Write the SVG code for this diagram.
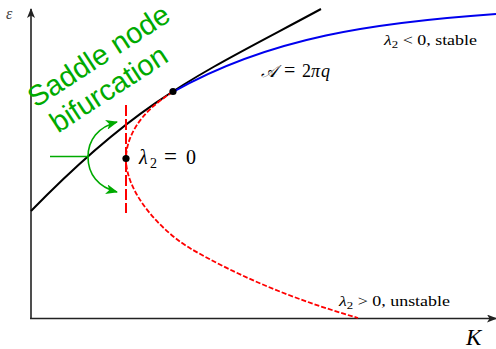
<svg xmlns="http://www.w3.org/2000/svg" width="496" height="349" viewBox="0 0 496 349">
<style>
.axis{stroke:#222;stroke-width:1.6;fill:none}
.math{font-family:"Liberation Serif","DejaVu Serif",serif;fill:#000}
.it{font-style:italic}
.green{fill:#00aa00;font-family:"Liberation Sans","DejaVu Sans",sans-serif;font-size:29px}
.garc{stroke:#00aa00;stroke-width:1.6;fill:none}
.dot{fill:#000}
</style>
<defs>
<marker id="ax" viewBox="0 0 10 8" refX="9" refY="4" markerWidth="10" markerHeight="8" markerUnits="userSpaceOnUse" orient="auto">
<path d="M0,0 L10,4 L0,8 L2.5,4 Z" fill="#222"/>
</marker>
<marker id="ga" viewBox="0 0 12 10" refX="11" refY="5" markerWidth="12" markerHeight="10" markerUnits="userSpaceOnUse" orient="auto">
<path d="M0,0 L12,5 L0,10 L3,5 Z" fill="#00aa00"/>
</marker>
</defs>
<rect width="496" height="349" fill="#fff"/>
<g id="axes">
<line class="axis" x1="31" y1="319" x2="31" y2="9" marker-end="url(#ax)"/>
<line class="axis" x1="30" y1="318.5" x2="496" y2="318.5" marker-end="url(#ax)"/>
<text class="math it" x="6" y="19" font-size="16" style="fill:#444">ε</text>
<text class="math it" x="466" y="345" font-size="23">K</text>
</g>
<g id="connectors">
<path d="M31,211 C141,97.7 201,73.8 321,9" stroke="#000" stroke-width="2" fill="none"/>
<path d="M173,92 C270,37 376,22.4 496,14" stroke="#0000ee" stroke-width="2" fill="none"/>
<path d="M173,92 C138,113 126,139 126,159 C126,194 163,233 193,250 C248,281.4 303,302 358,318" stroke="#ff0000" stroke-width="1.8" fill="none" stroke-dasharray="5 2"/>
<line x1="126" y1="105" x2="126" y2="213" stroke="#ff0000" stroke-width="2" stroke-dasharray="11 3"/>
<line x1="50" y1="156.5" x2="88" y2="156.5" class="garc"/>
<path class="garc" d="M88,157 C88,140 98,127 117,122" marker-end="url(#ga)"/>
<path class="garc" d="M88,157 C88,174 98,187 117,192" marker-end="url(#ga)"/>
</g>
<g id="bifurcation-label">
<text class="green" text-anchor="middle" transform="translate(104,64) rotate(-33)">Saddle node</text>
<text class="green" text-anchor="middle" transform="translate(114,97) rotate(-33)">bifurcation</text>
</g>
<g id="node-upper">
<circle class="dot" cx="173" cy="91.5" r="3.6"/>
</g>
<g id="node-lambda0">
<circle class="dot" cx="126" cy="158.5" r="3.6"/>
<text class="math" y="164" font-size="20"><tspan class="it" x="139">λ</tspan><tspan font-size="14" x="150" dy="4">2</tspan><tspan x="164" dy="-4" font-size="23">=</tspan><tspan x="186">0</tspan></text>
</g>
<g id="labels">
<text class="math" y="77" font-size="18"><tspan class="it" x="261" font-size="17">𝒜</tspan><tspan x="284" font-size="20">=</tspan><tspan x="302">2</tspan><tspan class="it" x="311">π</tspan><tspan class="it" x="321">q</tspan></text>
<text class="math" x="384" y="45" font-size="14" textLength="93" lengthAdjust="spacingAndGlyphs"><tspan class="it">λ</tspan><tspan font-size="10" dy="3">2</tspan><tspan dy="-3"> &lt; 0, stable</tspan></text>
<text class="math" x="339" y="306" font-size="14" textLength="111" lengthAdjust="spacingAndGlyphs"><tspan class="it">λ</tspan><tspan font-size="10" dy="3">2</tspan><tspan dy="-3"> &gt; 0, unstable</tspan></text>
</g>
</svg>
